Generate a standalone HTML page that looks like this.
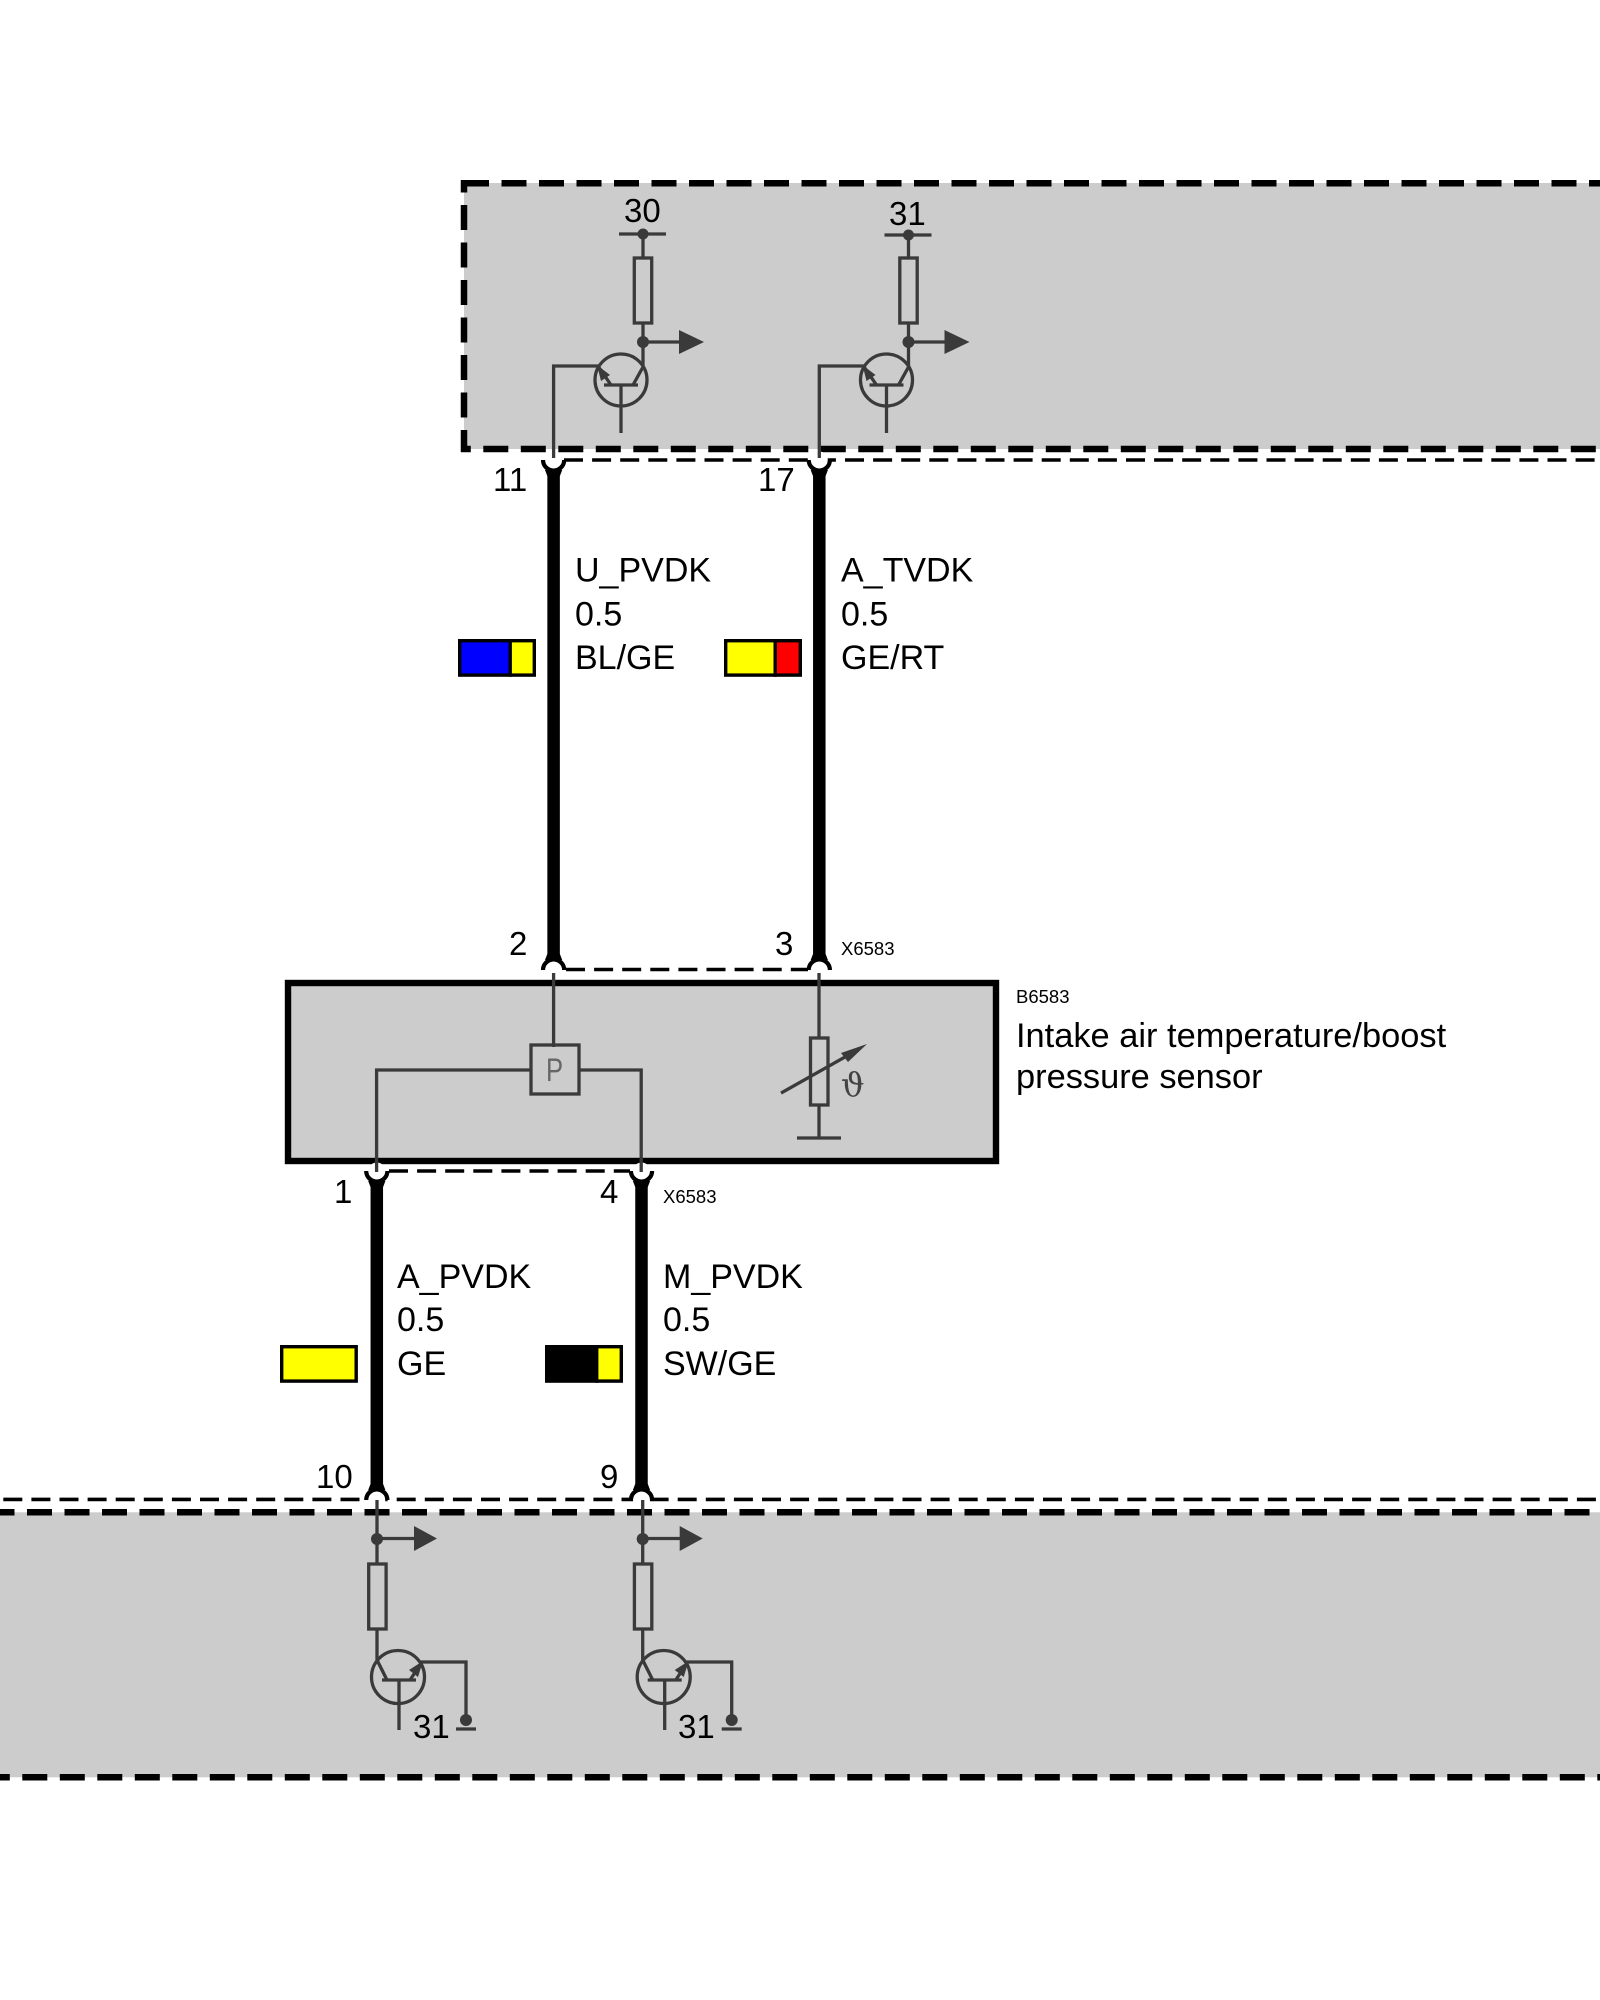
<!DOCTYPE html>
<html><head><meta charset="utf-8"><style>
html,body{margin:0;padding:0;background:#fff}
svg{display:block}
text{font-family:"Liberation Sans",sans-serif;fill:#000}
.t{font-size:34px}
.n{font-size:33px}
.s{font-size:18.5px}
.l{stroke:#3a3a3a;stroke-width:3.3;fill:none}
.d{fill:#3a3a3a;stroke:none}
.th{stroke:#000;stroke-width:6.5;fill:none;stroke-dasharray:25 12.5}
.tn{stroke:#000;stroke-width:3.6;fill:none;stroke-dasharray:19 9.1}
.w{stroke:#000;stroke-width:12.5;fill:none}
.a{stroke:#000;stroke-width:4.2;fill:none}
</style></head><body>
<svg width="1600" height="2000" viewBox="0 0 1600 2000" xmlns="http://www.w3.org/2000/svg">
<rect width="1600" height="2000" fill="#fff"/>
<!-- top box -->
<rect x="464" y="183" width="1136" height="266" fill="#ccc"/>
<line class="th" x1="461" y1="183.3" x2="1600" y2="183.3" stroke-dashoffset="-3"/>
<line class="th" x1="464" y1="180" x2="464" y2="452" stroke-dashoffset="12.5"/>
<line class="th" x1="461" y1="449" x2="1600" y2="449" stroke-dashoffset="15.2"/>
<line class="tn" x1="564" y1="460" x2="1600" y2="460"/>
<!-- bottom box -->
<rect x="0" y="1512.3" width="1600" height="265" fill="#ccc"/>
<line class="th" x1="0" y1="1512.3" x2="1600" y2="1512.3" stroke-dashoffset="10.5"/>
<line class="th" x1="0" y1="1777.3" x2="1600" y2="1777.3" stroke-dashoffset="15.2"/>
<line class="tn" x1="0" y1="1499.4" x2="1600" y2="1499.4" stroke-dashoffset="24.8"/>
<!-- sensor box -->
<rect x="288" y="983" width="708" height="178" fill="#ccc" stroke="#000" stroke-width="6.4"/>
<line class="tn" x1="566" y1="969.5" x2="808" y2="969.5"/>
<line class="tn" x1="389" y1="1171" x2="630" y2="1171"/>
<!-- thick wires -->
<line class="w" x1="553.6" y1="462" x2="553.6" y2="968"/>
<line class="w" x1="819.3" y1="462" x2="819.3" y2="968"/>
<line class="w" x1="376.8" y1="1173" x2="376.8" y2="1498"/>
<line class="w" x1="641.5" y1="1173" x2="641.5" y2="1498"/>
<!-- flares -->
<g fill="#000">
<polygon points="547.3,476 545,470 562.2,470 559.9,476"/>
<polygon points="813,476 810.7,470 827.9,470 825.6,476"/>
<polygon points="547.3,954 545,960 562.2,960 559.9,954"/>
<polygon points="813,954 810.7,960 827.9,960 825.6,954"/>
<polygon points="370.5,1187 368.2,1181 385.4,1181 383.1,1187"/>
<polygon points="635.2,1187 632.9,1181 650.1,1181 647.8,1187"/>
<polygon points="370.5,1484 368.2,1490 385.4,1490 383.1,1484"/>
<polygon points="635.2,1484 632.9,1490 650.1,1490 647.8,1484"/>
</g>
<!-- pin caps -->
<g fill="#fff">
<circle cx="553.6" cy="460" r="8.5"/><circle cx="819.3" cy="460" r="8.5"/>
<circle cx="553.6" cy="970" r="8.5"/><circle cx="819.3" cy="970" r="8.5"/>
<circle cx="376.8" cy="1171" r="8.5"/><circle cx="641.5" cy="1171" r="8.5"/>
<circle cx="376.8" cy="1500" r="8.5"/><circle cx="641.5" cy="1500" r="8.5"/>
</g>
<path class="a" d="M543 460a10.6 10.6 0 0 0 21.2 0M808.7 460a10.6 10.6 0 0 0 21.2 0"/>
<path class="a" d="M366.2 1171a10.6 10.6 0 0 0 21.2 0M630.9 1171a10.6 10.6 0 0 0 21.2 0"/>
<path class="a" d="M543 970a10.6 10.6 0 0 1 21.2 0M808.7 970a10.6 10.6 0 0 1 21.2 0"/>
<path class="a" d="M366.2 1500a10.6 10.6 0 0 1 21.2 0M630.9 1500a10.6 10.6 0 0 1 21.2 0"/>
<!-- top circuit 1 -->
<g>
<line class="l" x1="619" y1="234" x2="666" y2="234"/>
<circle class="d" cx="643" cy="234" r="5.5"/>
<path class="l" d="M643 234V258M643 323V367L633 385"/>
<rect class="l" x="634.3" y="258" width="17.4" height="65"/>
<circle class="d" cx="643" cy="342" r="6"/>
<line class="l" x1="643" y1="342" x2="680" y2="342"/>
<polygon class="d" points="679,330 704,342 679,354"/>
<circle class="l" cx="621" cy="380" r="26"/>
<path class="l" d="M604 385H638M621 385V433M611 385L598 366"/>
<polygon class="d" points="597,365 610,375 601,381"/>
</g>
<path class="l" d="M553.6 458V366H598"/>
<!-- top circuit 2 -->
<g transform="translate(265.5,0)">
<line class="l" x1="619" y1="235" x2="666" y2="235"/>
<circle class="d" cx="643" cy="235" r="5.5"/>
<path class="l" d="M643 235V258M643 323V367L633 385"/>
<rect class="l" x="634.3" y="258" width="17.4" height="65"/>
<circle class="d" cx="643" cy="342" r="6"/>
<line class="l" x1="643" y1="342" x2="680" y2="342"/>
<polygon class="d" points="679,330 704,342 679,354"/>
<circle class="l" cx="621" cy="380" r="26"/>
<path class="l" d="M604 385H638M621 385V433M611 385L598 366"/>
<polygon class="d" points="597,365 610,375 601,381"/>
</g>
<path class="l" d="M819.3 458V366H864"/>
<!-- sensor internals -->
<path class="l" d="M553.6 973V1047M531 1070H376.6V1172M579 1070H641.2V1172"/>
<rect class="l" x="531" y="1045" width="48" height="49"/>
<text transform="translate(546,1081) scale(0.8,1)" style="font-size:32px;fill:#666">P</text>
<path class="l" d="M819 973V1038M819 1105V1138M797 1138H841"/>
<rect class="l" x="810.5" y="1038" width="17.5" height="67"/>
<line class="l" x1="781" y1="1093" x2="852" y2="1053"/>
<polygon class="d" points="867,1044 841,1053 848,1062"/>
<text x="841" y="1096" style="font-family:'DejaVu Serif',serif;font-size:33px;fill:#444">ϑ</text>
<!-- bottom circuits -->
<g>
<path class="l" d="M377 1500V1564M377 1629V1660L387 1680"/>
<circle class="d" cx="377" cy="1539" r="6"/>
<line class="l" x1="377" y1="1538.5" x2="415" y2="1538.5"/>
<polygon class="d" points="414,1526 437,1538.5 414,1551"/>
<rect class="l" x="368.7" y="1564" width="17.4" height="65"/>
<circle class="l" cx="398" cy="1677" r="26.5"/>
<path class="l" d="M382 1680H416M399 1680V1730M410 1680L422 1662H466V1720M456 1729H476"/>
<polygon class="d" points="423,1661 418,1677 409,1670"/>
<circle class="d" cx="466" cy="1720" r="6"/>
</g>
<g transform="translate(265.7,0)">
<path class="l" d="M377 1500V1564M377 1629V1660L387 1680"/>
<circle class="d" cx="377" cy="1539" r="6"/>
<line class="l" x1="377" y1="1538.5" x2="415" y2="1538.5"/>
<polygon class="d" points="414,1526 437,1538.5 414,1551"/>
<rect class="l" x="368.7" y="1564" width="17.4" height="65"/>
<circle class="l" cx="398" cy="1677" r="26.5"/>
<path class="l" d="M382 1680H416M399 1680V1730M410 1680L422 1662H466V1720M456 1729H476"/>
<polygon class="d" points="423,1661 418,1677 409,1670"/>
<circle class="d" cx="466" cy="1720" r="6"/>
</g>
<!-- swatches -->
<g stroke="#000" stroke-width="3.4">
<rect x="459.7" y="640.7" width="50.5" height="34.4" fill="#00f"/>
<rect x="510.2" y="640.7" width="24.1" height="34.4" fill="#ff0"/>
<rect x="725.7" y="640.7" width="49.5" height="34.4" fill="#ff0"/>
<rect x="775.2" y="640.7" width="25.1" height="34.4" fill="#f00"/>
<rect x="281.7" y="1346.7" width="74.5" height="34.4" fill="#ff0"/>
<rect x="546.7" y="1346.7" width="50" height="34.4" fill="#000"/>
<rect x="596.7" y="1346.7" width="24.6" height="34.4" fill="#ff0"/>
</g>
<!-- labels -->
<text class="t" x="575" y="581.5">U_PVDK</text>
<text class="t" x="575" y="625.5">0.5</text>
<text class="t" x="575" y="669">BL/GE</text>
<text class="t" x="841" y="581.5">A_TVDK</text>
<text class="t" x="841" y="625.5">0.5</text>
<text class="t" x="841" y="669">GE/RT</text>
<text class="t" x="397" y="1288">A_PVDK</text>
<text class="t" x="397" y="1331">0.5</text>
<text class="t" x="397" y="1375">GE</text>
<text class="t" x="663" y="1288">M_PVDK</text>
<text class="t" x="663" y="1331">0.5</text>
<text class="t" x="663" y="1375">SW/GE</text>
<text class="n" x="493" y="491">11</text>
<text class="n" x="758" y="491">17</text>
<text class="n" x="509" y="955">2</text>
<text class="n" x="775" y="955">3</text>
<text class="n" x="334" y="1203">1</text>
<text class="n" x="600" y="1203">4</text>
<text class="n" x="316" y="1488">10</text>
<text class="n" x="600" y="1488">9</text>
<text class="n" x="624" y="222">30</text>
<text class="n" x="889" y="225">31</text>
<text class="n" x="413" y="1738">31</text>
<text class="n" x="678" y="1738">31</text>
<text class="s" x="841" y="955">X6583</text>
<text class="s" x="663" y="1203">X6583</text>
<text class="s" x="1016" y="1003">B6583</text>
<text x="1016" y="1047" style="font-size:34.4px">Intake air temperature/boost</text>
<text x="1016" y="1088" style="font-size:34.4px">pressure sensor</text>
</svg>
</body></html>
